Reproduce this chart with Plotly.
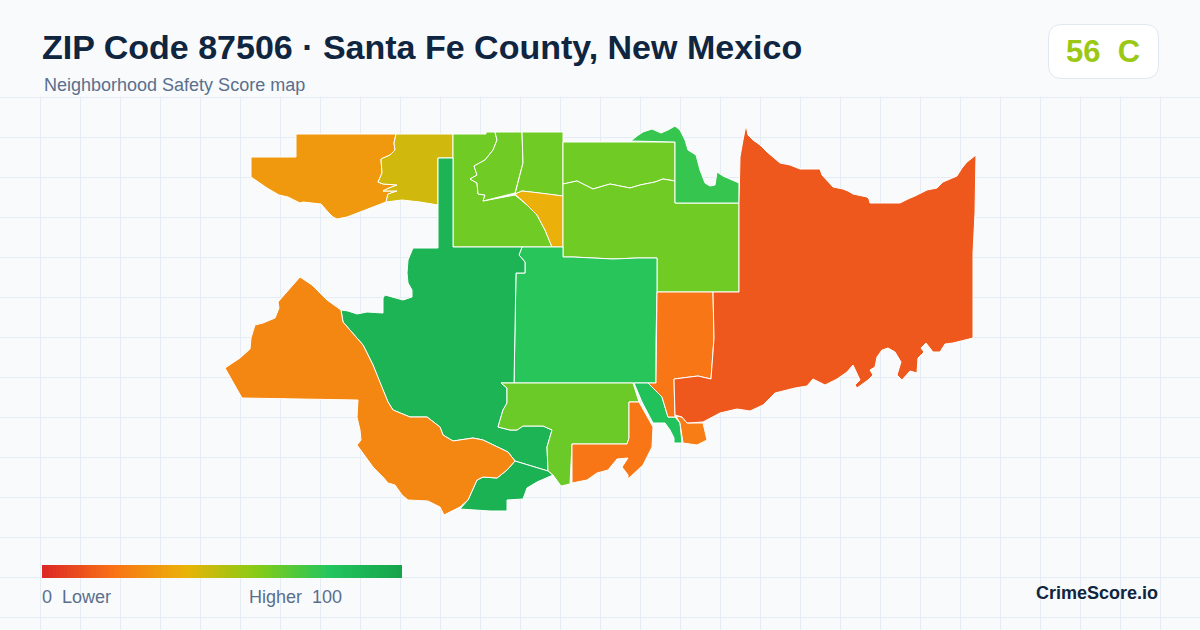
import plotly.graph_objects as go
from plotly.colors import sample_colorscale

# zone outlines (x, y in map units)
nw_orange = [(296,134),(396,134),(394,143),(395,150),(390,155),(381,159),(382,173),(378,182),(383,184),(397,185),(389,188),(383,191),(397,191),(388,194),(386,202),(347,217),(337,219),(333,217),(328,212),(321,204),(303,202),(300,203),(288,197),(279,195),(267,188),(251,177),(251,157),(296,157)]
nw_olive = [(396,134),(453,134),(453,158),(438,158),(438,205),(420,202),(402,200),(386,202),(388,194),(397,191),(383,191),(389,188),(397,185),(383,184),(378,182),(382,173),(381,159),(390,155),(395,150),(394,143)]
north_left = [(453,134),(486,134),(486,132),(495,132),(497,140),(493,150),(485,160),(474,166),(477,175),(470,179),(477,183),(478,194),(485,195),(483,201),(515,195),(527,205),(537,215),(545,230),(552,247),(453,247)]
north_mid = [(495,132),(522,132),(523,163),(515,193),(483,201),(485,195),(478,194),(477,183),(470,179),(477,175),(474,166),(485,160),(493,150),(497,140)]
north_right = [(522,132),(563,132),(563,196),(540,193),(522,191),(515,194),(523,163)]
north_yellow = [(515,194),(522,191),(540,193),(563,196),(563,247),(552,247),(545,230),(537,215),(527,205)]
upper_lime = [(563,142),(675,142),(675,181),(663,179),(655,182),(640,185),(630,188),(610,184),(593,189),(577,181),(563,184)]
lower_lime = [(563,184),(577,181),(593,189),(610,184),(630,188),(640,185),(655,182),(663,179),(675,181),(675,203),(739,203),(739,292),(657,292),(657,258),(637,258),(613,259),(573,257),(563,257)]
ne_green = [(631,141),(637,136),(643,132),(652,129),(661,133),(668,130),(675,126),(680,130),(685,140),(688,150),(696,155),(700,170),(705,183),(710,186),(715,185),(717,172),(723,176),(730,179),(739,183),(739,203),(675,203),(675,142)]
center_green = [(522,247),(563,247),(563,257),(573,257),(613,259),(637,258),(657,258),(657,291),(656,340),(656,383),(514,383),(516,273),(525,273),(525,262),(519,255)]
west_green = [(438,158),(453,158),(453,247),(522,247),(519,255),(525,262),(525,273),(516,273),(514,383),(501,383),(507,388),(507,403),(503,410),(498,427),(510,430),(517,430),(523,426),(543,426),(552,430),(547,447),(548,471),(515,461),(508,452),(483,440),(473,438),(453,441),(443,435),(440,427),(427,417),(410,417),(393,410),(388,402),(380,383),(373,365),(363,345),(352,332),(343,322),(341,310),(348,311),(357,314),(367,312),(383,313),(383,298),(385,295),(403,300),(412,297),(412,290),(408,283),(407,273),(408,260),(413,248),(438,248)]
south_green = [(515,461),(548,471),(553,475),(537,482),(527,488),(523,499),(507,500),(507,511),(490,511),(460,509),(468,500),(477,480),(483,477),(497,478),(507,470)]
sw_orange = [(300,277),(312,285),(327,300),(341,310),(343,322),(352,332),(363,345),(373,365),(380,383),(388,402),(393,410),(410,417),(427,417),(440,427),(443,435),(453,441),(473,438),(483,440),(508,452),(515,461),(507,470),(497,478),(483,477),(477,480),(468,500),(460,507),(444,515),(440,507),(428,501),(408,500),(402,495),(395,485),(388,483),(383,477),(373,467),(357,445),(361,440),(360,430),(357,417),(358,400),(300,399),(242,398),(225,368),(240,358),(250,349),(251,338),(255,325),(263,323),(275,318),(279,308),(278,302),(293,285)]
mid_lime = [(501,383),(591,383),(633,383),(639,402),(629,402),(629,438),(627,444),(572,444),(570,484),(561,486),(553,475),(548,471),(547,447),(552,430),(543,426),(523,426),(517,430),(510,430),(498,427),(503,410),(507,403),(507,388)]
south_orange = [(572,444),(627,444),(629,438),(629,402),(639,402),(653,427),(652,447),(643,465),(628,479),(628,475),(622,467),(628,458),(617,459),(608,470),(597,473),(587,480),(572,483)]
east_strip = [(634,383),(648,383),(662,397),(668,417),(675,417),(680,423),(682,443),(674,443),(674,438),(670,430),(665,423),(653,423),(642,402)]
east_column = [(657,292),(713,292),(714,338),(711,379),(698,376),(674,379),(675,417),(668,417),(662,397),(648,383),(656,383)]
coast_orange = [(676,416),(682,417),(687,423),(703,423),(707,440),(697,445),(683,443),(680,423)]
east_red = [(746,125),(748,135),(753,140),(760,145),(767,152),(773,157),(780,163),(790,165),(800,169),(808,169),(820,169),(822,175),(827,180),(833,187),(843,189),(848,191),(853,194),(867,197),(869,199),(870,203),(875,203),(882,203),(893,203),(900,203),(908,199),(915,196),(927,190),(937,188),(943,182),(957,176),(962,168),(967,162),(976,155),(975,213),(973,253),(973,338),(953,343),(945,344),(940,352),(933,352),(926,343),(921,348),(924,352),(918,358),(917,373),(910,371),(902,380),(897,375),(901,362),(895,352),(888,348),(882,350),(877,357),(875,367),(870,370),(873,375),(868,380),(857,388),(855,385),(860,380),(853,365),(847,372),(837,379),(825,385),(813,379),(807,386),(795,388),(775,393),(763,405),(750,411),(737,409),(720,413),(703,422),(687,423),(682,417),(675,415),(674,379),(698,376),(711,379),(714,338),(713,292),(739,292),(739,203),(740,157),(743,140)]

zones = [nw_orange, nw_olive, north_left, north_mid, north_right, north_yellow, upper_lime, lower_lime,
         ne_green, center_green, west_green, south_green, sw_orange, mid_lime, south_orange, east_strip,
         east_column, coast_orange, east_red]
scores = [32, 45, 64, 64, 64, 39, 64, 64, 76, 79, 90, 91, 26, 65, 21, 82, 21, 23, 13]

legend_values = [v + 0.5 for v in range(100)]
scale = [[0, "#dc2626"], [0.2, "#f97316"], [0.4, "#eab308"], [0.6, "#84cc16"], [0.8, "#22c55e"], [1, "#16a34a"]]

fig = go.Figure()

for zone, score in zip(zones, scores):
    fig.add_trace(go.Scatter(
        x=[p[0] for p in zone] + [zone[0][0]],
        y=[p[1] for p in zone] + [zone[0][1]],
        mode="lines",
        fill="toself",
        fillcolor=sample_colorscale(scale, score / 100)[0],
        line=dict(color="white", width=1),
        hoverinfo="text",
        text=f"Score {score}",
    ))

# legend bar, cells centred so it runs exactly 42..402 and 565..578
fig.add_trace(go.Heatmap(
    x=[42 + v * 3.6 for v in legend_values],
    y=[568.25, 574.75],
    z=[legend_values, legend_values],
    zmin=0, zmax=100,
    colorscale=scale,
    showscale=False,
    hoverinfo="skip",
))

navy = "#0f2540"
slate = "#5a6f8c"
fig.update_layout(
    width=1200, height=630,
    margin=dict(l=0, r=0, t=0, b=0),
    paper_bgcolor="#f8fafc",
    plot_bgcolor="#f8fafc",
    showlegend=False,
    font=dict(family="Liberation Sans"),
    xaxis=dict(range=[0, 1200], tick0=0, dtick=40, showgrid=True, gridcolor="#e5ecf4", gridwidth=1,
               zeroline=False, showticklabels=False, ticks="", fixedrange=True),
    yaxis=dict(range=[630, 0], tick0=97, dtick=40, showgrid=True, gridcolor="#e5ecf4", gridwidth=1,
               zeroline=False, showticklabels=False, ticks="", fixedrange=True),
    shapes=[
        # header band hides the grid
        dict(type="rect", x0=0, x1=1200, y0=0, y1=96.5, fillcolor="#f8fafc", line_width=0, layer="between"),
        dict(type="path", path="M1062,24.5 H1145 Q1158.5,24.5 1158.5,38 V65 Q1158.5,78.5 1145,78.5 H1062 Q1048.5,78.5 1048.5,65 V38 Q1048.5,24.5 1062,24.5 Z",
             fillcolor="white", line=dict(color="#e2e8f0", width=1), layer="between"),
    ],
)


def label(x, y, text, size, color, bold=False, anchor="left"):
    fig.add_annotation(x=x, y=y, text=f"<b>{text}</b>" if bold else text, showarrow=False,
                       xanchor=anchor, yanchor="middle", align=anchor, borderpad=0, borderwidth=0,
                       font=dict(size=size, color=color, family="Liberation Sans"))


label(42, 47, "ZIP Code 87506 · Santa Fe County, New Mexico", 34, navy, bold=True)
label(44, 85, "Neighborhood Safety Score map", 18, slate)
label(1066, 51, "56  C", 31, "#9bc814", bold=True)
label(42, 597, "0  Lower", 18, slate)
label(249, 597, "Higher  100", 18, slate)
label(1158, 593, "CrimeScore.io", 18, navy, bold=True, anchor="right")

fig.write_html("out.html", config={"displayModeBar": False}, post_script="document.body.style.margin = '0';")
